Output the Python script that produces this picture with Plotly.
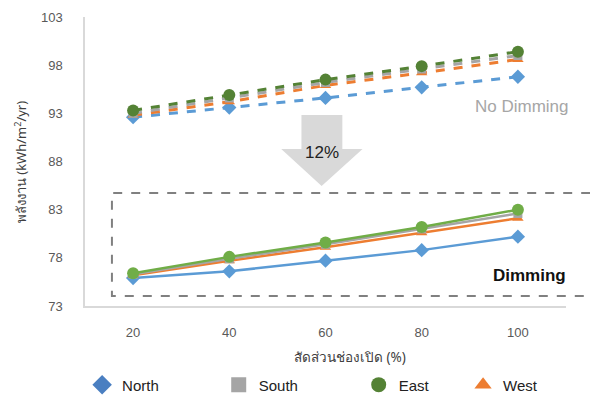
import plotly.graph_objects as go

# Window-to-wall ratio (%) on the category axis
ratios = ["20", "40", "60", "80", "100"]

# Energy use (kWh/m2/yr) without daylight dimming
north_nodim = [92.6, 93.6, 94.6, 95.7, 96.8]
south_nodim = [93.0, 94.6, 96.2, 97.6, 99.0]
east_nodim = [93.3, 94.9, 96.5, 97.9, 99.4]
west_nodim = [92.8, 94.2, 95.9, 97.2, 98.6]

# Energy use (kWh/m2/yr) with daylight dimming
north_dim = [75.9, 76.6, 77.7, 78.8, 80.2]
south_dim = [76.3, 77.9, 79.4, 81.0, 82.6]
east_dim = [76.4, 78.1, 79.6, 81.2, 83.0]
west_dim = [76.2, 77.7, 79.1, 80.6, 82.1]

y_ticks = [73, 78, 83, 88, 93, 98, 103]

BLUE = "#5b9bd5"
GRAY = "#a5a5a5"
ORANGE = "#ed7d31"
GREEN_DARK = "#548235"
GREEN = "#70ad47"

FONT = "Liberation Sans, Arial, Noto Sans, sans-serif"
THAI_FONT = "Noto Sans, " + FONT

fig = go.Figure()

# (name, no-dimming values, dimming values, symbol, marker size, dashed colour, solid colour)
series = [
    ("North", north_nodim, north_dim, "diamond", 11, BLUE, BLUE),
    ("West", west_nodim, west_dim, "triangle-up", 10, ORANGE, ORANGE),
    ("South", south_nodim, south_dim, "square", 9, GRAY, GRAY),
    ("East", east_nodim, east_dim, "circle", 12, GREEN_DARK, GREEN),
]

for name, nodim, dim, sym, size, c_dash, c_solid in series:
    fig.add_trace(go.Scatter(
        x=ratios, y=nodim, mode="lines+markers", showlegend=False,
        line=dict(color=c_dash, width=3, dash="dash"),
        marker=dict(symbol=sym, size=size, color=c_dash),
        name=name + " (no dimming)",
    ))
    fig.add_trace(go.Scatter(
        x=ratios, y=dim, mode="lines+markers", showlegend=False,
        line=dict(color=c_solid, width=2.5),
        marker=dict(symbol=sym, size=size, color=c_solid),
        name=name + " (dimming)",
    ))

# Legend: one small legend per series so each entry sits at its own spot
legend_items = [
    ("North", "diamond", "#4a7fc1", "legend", -0.006),
    ("South", "square", GRAY, "legend2", 0.278),
    ("East", "circle", GREEN_DARK, "legend3", 0.569),
    ("West", "triangle-up", ORANGE, "legend4", 0.786),
]
layout_legends = {}
for name, sym, col, lg, lx in legend_items:
    fig.add_trace(go.Scatter(
        x=[None], y=[None], mode="markers", name=name, legend=lg,
        marker=dict(symbol=sym, size=15, color=col),
    ))
    layout_legends[lg] = dict(
        x=lx, y=-0.273, xanchor="left", yanchor="middle",
        orientation="h", bgcolor="rgba(0,0,0,0)",
        font=dict(family=FONT, size=15, color="#222222"),
        itemwidth=30,
    )

# Down arrow between the two groups
arrow = ("M 0.450 0.661 L 0.535 0.661 L 0.535 0.543 L 0.577 0.543 "
         "L 0.492 0.415 L 0.408 0.543 L 0.450 0.543 Z")
fig.add_shape(type="path", path=arrow, xref="paper", yref="paper",
              fillcolor="#d9d9d9", line=dict(width=0), layer="below")

# Dashed frame round the dimming results
fig.add_shape(type="path", xref="paper", yref="paper",
              path="M 1.2 0.391 L 0.056 0.391 L 0.056 0.035 L 1.2 0.035",
              line=dict(color="#808080", width=2, dash="dash"))

def note(x, y, text, size, color, angle=0, family=FONT):
    fig.add_annotation(x=x, y=y, xref="paper", yref="paper", text=text,
                       xanchor="center", yanchor="middle", showarrow=False,
                       textangle=angle, font=dict(family=family, size=size, color=color))

note(0.492, 0.532, "12%", 17, "#222222")
note(0.909, 0.689, "No Dimming", 17, "#a6a6a6")
note(0.925, 0.104, "<b>Dimming</b>", 17, "#111111")

# Axis titles
note(0.551, -0.176, "สัดส่วนช่องเปิด (%)", 13.5, "#404040", family=THAI_FONT)
note(-0.135, 0.498, "พลังงาน (kWh/m<sup>2</sup>/yr)", 13, "#404040", angle=-90,
     family=THAI_FONT)

fig.update_layout(
    width=590, height=397,
    margin=dict(l=85, r=24, t=17, b=91, autoexpand=False),
    paper_bgcolor="white", plot_bgcolor="white",
    font=dict(family=FONT, size=13, color="#595959"),
    **layout_legends,
)

fig.update_xaxes(
    type="category", range=[-0.5, 4.5],
    showgrid=False, zeroline=False,
    showline=True, linecolor="#d9d9d9", linewidth=1.5,
    ticks="", ticklabelstandoff=14, tickfont=dict(size=13, color="#595959"),
)
fig.update_yaxes(
    range=[73, 103], tickvals=y_ticks,
    showgrid=False, zeroline=False,
    showline=True, linecolor="#d9d9d9", linewidth=1.5,
    ticks="", ticklabelstandoff=18, tickfont=dict(size=13, color="#595959"),
)

fig.write_html("out.html")
